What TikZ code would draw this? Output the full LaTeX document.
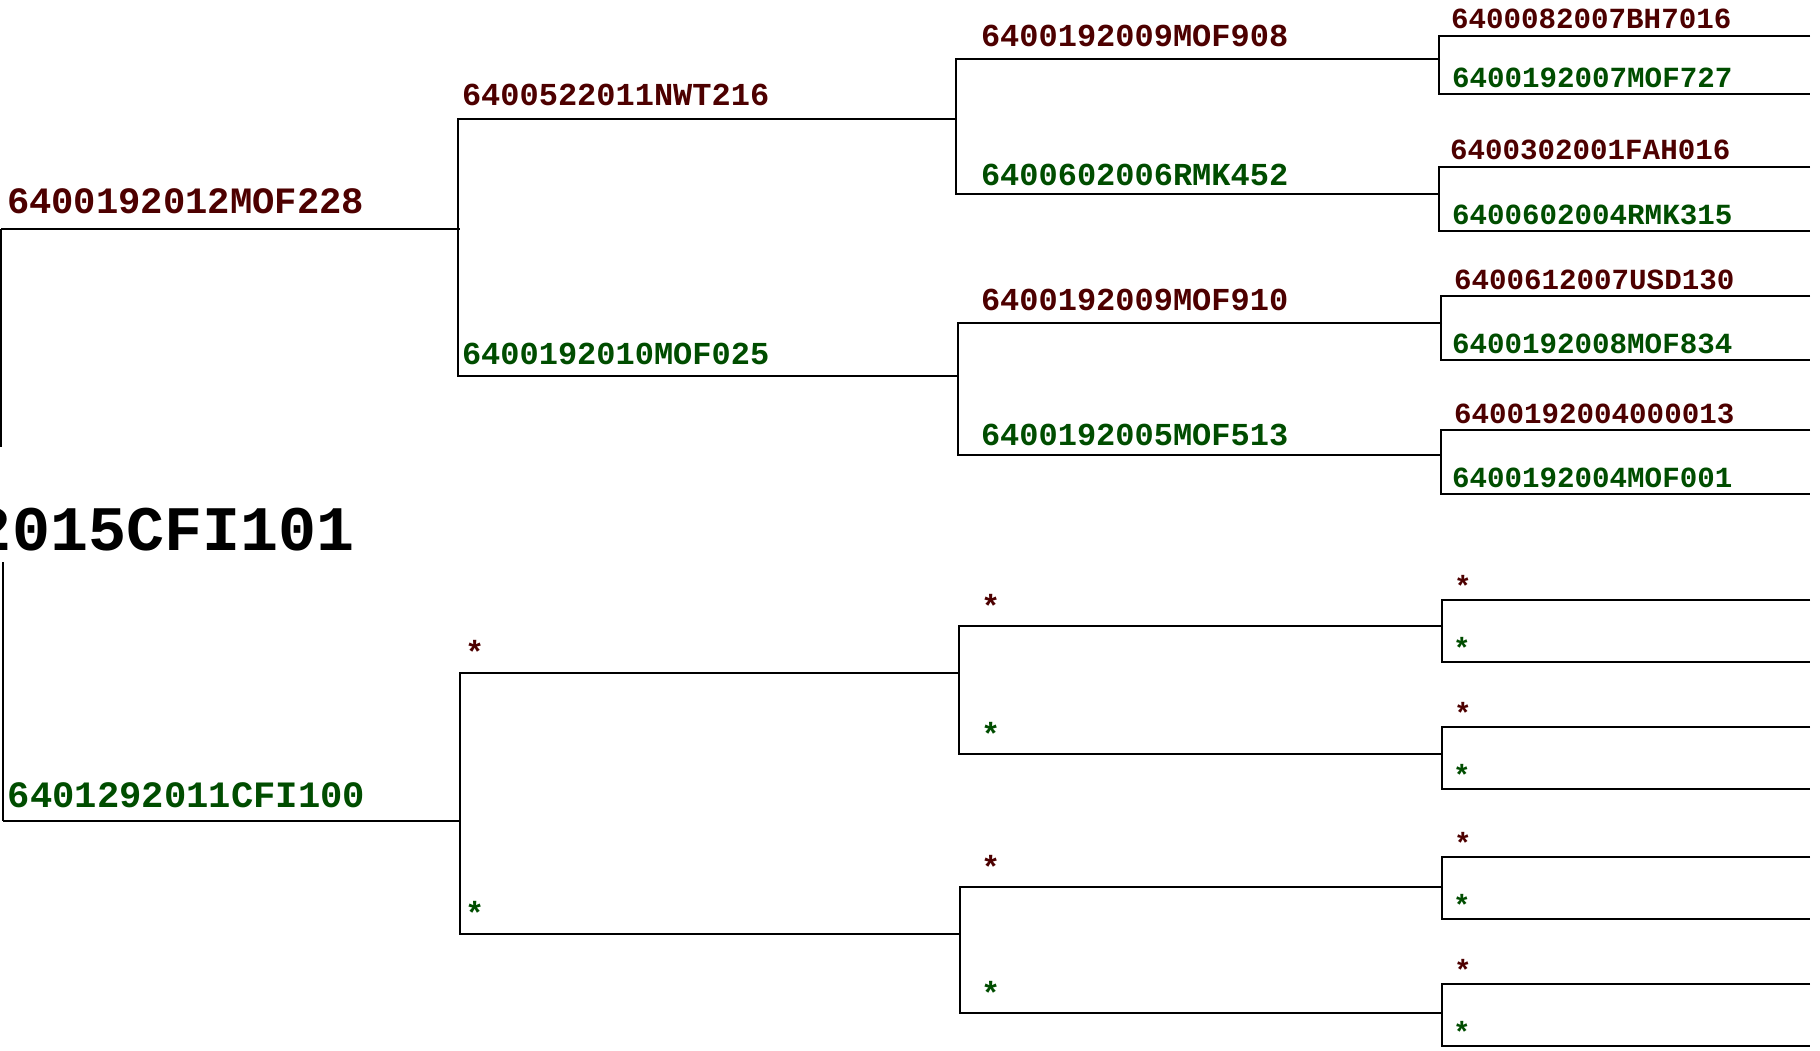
\documentclass[tikz,border=0pt]{standalone}
\usepackage{fontspec}
\newfontfamily\cour{Liberation Mono}
\definecolor{rdc}{RGB}{77,0,0}
\definecolor{grc}{RGB}{0,77,0}
\tikzset{
  ln/.style={draw=black, line width=0.75pt, line join=miter},
  lab/.style={anchor=base west, inner sep=0pt, outer sep=0pt},
  s0/.style={font=\cour\bfseries\fontsize{31.7}{36}\selectfont, text=black},
  s1/.style={font=\cour\bfseries\fontsize{18.6}{22}\selectfont},
  s2/.style={font=\cour\bfseries\fontsize{16}{19}\selectfont},
  s3/.style={font=\cour\bfseries\fontsize{16}{19}\selectfont},
  s4/.style={font=\cour\bfseries\fontsize{14.6}{17}\selectfont},
  rd/.style={text=rdc},
  gr/.style={text=grc}
}
\begin{document}
\begin{tikzpicture}[x=0.5pt,y=-0.5pt]
\useasboundingbox (0,0) rectangle (1820,1050);
% root
\draw[ln] (1,229) -- (1,447);
\draw[ln] (3,562) -- (3,821);
\node[lab,s0] (root) at (-26,550) {2015CFI101};
% level 1
\draw[ln] (1,229) -- (460,229);
\draw[ln] (3,821) -- (460,821);
\node[lab,s1,rd] (a1) at (7,213) {6400192012MOF228};
\node[lab,s1,gr] (a2) at (8,807) {6401292011CFI100};
% level 2
\draw[ln] (956,119) -- (458,119) -- (458,376) -- (958,376);
\draw[ln] (959,673) -- (460,673) -- (460,934) -- (960,934);
\node[lab,s2,rd] (b1) at (462,105) {6400522011NWT216};
\node[lab,s2,gr] (b2) at (462,364) {6400192010MOF025};
\node[lab,s2,rd] (b3) at (465,663) {*};
\node[lab,s2,gr] (b4) at (465,924) {*};
% level 3
\draw[ln] (1440,59) -- (956,59) -- (956,194) -- (1440,194);
\draw[ln] (1442,323) -- (958,323) -- (958,455) -- (1442,455);
\draw[ln] (1443,626) -- (959,626) -- (959,754) -- (1443,754);
\draw[ln] (1443,887) -- (960,887) -- (960,1013) -- (1443,1013);
\node[lab,s3,rd] (c1) at (981,46) {6400192009MOF908};
\node[lab,s3,gr] (c2) at (981,185) {6400602006RMK452};
\node[lab,s3,rd] (c3) at (981,310) {6400192009MOF910};
\node[lab,s3,gr] (c4) at (981,445) {6400192005MOF513};
\node[lab,s3,rd] (c5) at (981,617) {*};
\node[lab,s3,gr] (c6) at (981,745) {*};
\node[lab,s3,rd] (c7) at (981,878) {*};
\node[lab,s3,gr] (c8) at (981,1004) {*};
% level 4
\foreach \xv/\ya/\yb in {1439/36/94, 1439/167/231, 1441/296/360, 1441/430/494,
  1442/600/662, 1442/727/789, 1442/857/919, 1442/984/1046}
  \draw[ln] (1810,\ya) -- (\xv,\ya) -- (\xv,\yb) -- (1810,\yb);
\node[lab,s4,rd] (d1) at (1451,28) {6400082007BH7016};
\node[lab,s4,gr] (d2) at (1452,87) {6400192007MOF727};
\node[lab,s4,rd] (d3) at (1450,159) {6400302001FAH016};
\node[lab,s4,gr] (d4) at (1452,224) {6400602004RMK315};
\node[lab,s4,rd] (d5) at (1454,289) {6400612007USD130};
\node[lab,s4,gr] (d6) at (1452,353) {6400192008MOF834};
\node[lab,s4,rd] (d7) at (1454,423) {6400192004000013};
\node[lab,s4,gr] (d8) at (1452,487) {6400192004MOF001};
\node[lab,s4,rd] (d9) at (1454,596) {*};
\node[lab,s4,gr] (d10) at (1453,658) {*};
\node[lab,s4,rd] (d11) at (1454,723) {*};
\node[lab,s4,gr] (d12) at (1453,785) {*};
\node[lab,s4,rd] (d13) at (1454,853) {*};
\node[lab,s4,gr] (d14) at (1453,915) {*};
\node[lab,s4,rd] (d15) at (1454,980) {*};
\node[lab,s4,gr] (d16) at (1453,1042) {*};
\end{tikzpicture}
\end{document}
